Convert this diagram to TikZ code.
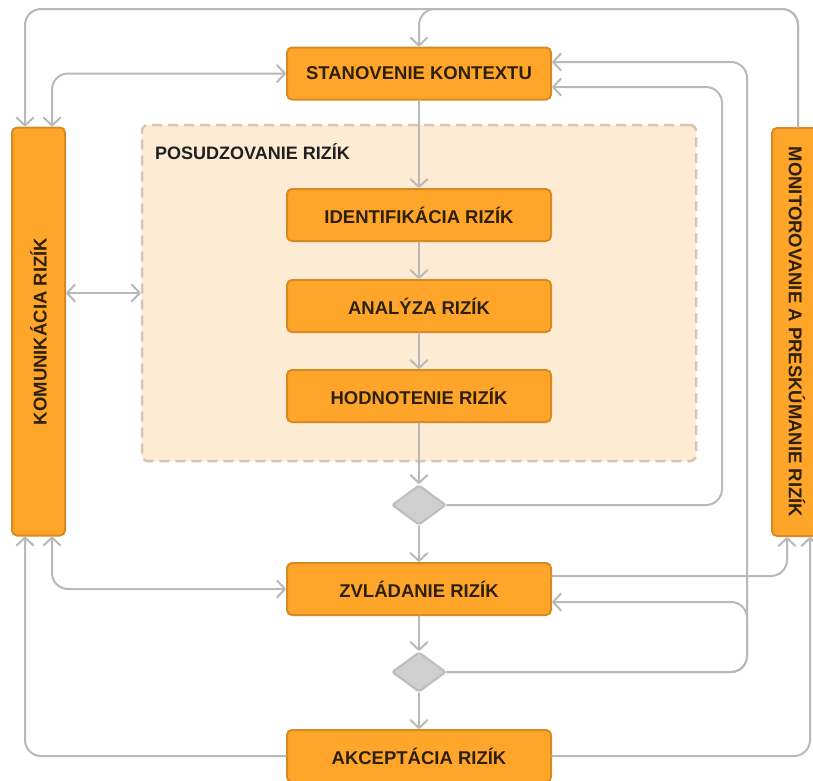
\documentclass[tikz,border=0pt]{standalone}
\usepackage{fontspec}
\setmainfont{Liberation Sans}
\usetikzlibrary{arrows.meta,shapes.geometric,calc}
\definecolor{ob}{HTML}{FFA62A}
\definecolor{obd}{HTML}{D88A22}
\definecolor{tx}{HTML}{2E2008}
\definecolor{ln}{HTML}{B9B9B9}
\definecolor{asf}{HTML}{FEEBD3}
\definecolor{asd}{HTML}{D5C5B1}
\definecolor{dmf}{HTML}{CFCFD0}
\definecolor{dmd}{HTML}{BDBDBD}
\begin{document}
\begin{tikzpicture}[x=1pt,y=-1pt,
  box/.style={draw=obd, fill=ob, line width=2pt, rounded corners=5pt, minimum width=264pt, minimum height=52pt, inner sep=0pt, text=tx, font=\bfseries\fontsize{18.5}{22}\selectfont},
  vbox/.style={draw=obd, fill=ob, line width=2pt, rounded corners=5pt, minimum height=408pt, inner sep=0pt},
  vtxt/.style={text=tx, font=\bfseries\fontsize{18.5}{22}\selectfont, inner sep=0pt},
  dia/.style={diamond, draw=dmd, fill=dmf, line width=2pt, minimum width=54pt, minimum height=40pt, inner sep=0pt, rounded corners=2pt},
  conn/.style={draw=ln, line width=2pt, rounded corners=16pt, line cap=round, line join=round},
  arr/.style={conn, -{Straight Barb[length=8pt,width=17pt,line cap=round,line join=round]}},
  arrtwo/.style={conn, {Straight Barb[length=8pt,width=17pt,line cap=round,line join=round]}-{Straight Barb[length=8pt,width=17pt,line cap=round,line join=round]}}
]
\useasboundingbox (0,0) rectangle (813,780);
\fill[white] (0,0) rectangle (813,780);

% assessment container
\node[draw=asd, fill=asf, line width=2.5pt, dash pattern=on 10pt off 6pt, rounded corners=6pt, minimum width=554pt, minimum height=336pt, inner sep=0pt] (assess) at (419,293) {};
\node[anchor=west, inner sep=0pt, text=black!88, font=\bfseries\fontsize{18}{21}\selectfont] (asslabel) at (155,151.5) {POSUDZOVANIE RIZÍK};

% main boxes
\node[box] (ctx) at (419,73.5) {STANOVENIE KONTEXTU};
\node[box] (ident) at (419,215) {IDENTIFIKÁCIA RIZÍK};
\node[box] (anal) at (419,306) {ANALÝZA RIZÍK};
\node[box] (hodn) at (419,396) {HODNOTENIE RIZÍK};
\node[dia] (d1) at (419,505) {};
\node[box] (zvl) at (419,589) {ZVLÁDANIE RIZÍK};
\node[dia] (d2) at (419,672) {};
\node[box] (akc) at (419,756) {AKCEPTÁCIA RIZÍK};

\node[vbox, minimum width=53pt] (kom) at (38.5,331.5) {};
\node[vtxt, rotate=90] (komt) at (kom.center) {KOMUNIKÁCIA RIZÍK};
\node[vbox, minimum width=50pt] (mon) at (797,332) {};
\node[vtxt, rotate=-90] (mont) at (mon.center) {MONITOROVANIE A PRESKÚMANIE RIZÍK};

% helper coordinates
\coordinate (c722) at (722,0);
\coordinate (c747) at (747,0);
\coordinate (ctop) at (0,9);
\coordinate (ctxhi) at ([yshift=11.5pt]ctx.east);
\coordinate (ctxlo) at ([yshift=-13.5pt]ctx.east);
\coordinate (zvlhi) at ([yshift=13pt]zvl.east);
\coordinate (zvllo) at ([yshift=-13pt]zvl.east);
\coordinate (komnl) at ([xshift=-13.5pt]kom.north);
\coordinate (komnr) at ([xshift=13.5pt]kom.north);
\coordinate (komsl) at ([xshift=-13.5pt]kom.south);
\coordinate (komsr) at ([xshift=13.5pt]kom.south);
\coordinate (monsl) at ([xshift=-10pt]mon.south);
\coordinate (monsr) at ([xshift=13pt]mon.south);
\coordinate (monn) at ([xshift=1pt]mon.north);

% vertical flow
\draw[arr] (ctx) -- (ident);
\draw[arr] (ident) -- (anal);
\draw[arr] (anal) -- (hodn);
\draw[arr] (hodn) -- (d1);
\draw[arr] (d1) -- (zvl);
\draw[arr] (zvl) -- (d2);
\draw[arr] (d2) -- (akc);

% top loops from monitoring
\draw[arr] (monn) |- (ctop -| ctx.north) -- (ctx.north);
\draw[arr] (monn) |- (ctop -| komnl) -- (komnl);

% communication links
\draw[arrtwo] (ctx.west) -| (komnr);
\draw[arrtwo] (kom.east |- assess.west) -- (assess.west);
\draw[arrtwo] (zvl.west) -| (komsr);
\draw[arr] (akc.west) -| (komsl);

% monitoring links
\draw[arr] (zvlhi) -| (monsl);
\draw[arr] (akc.east) -| (monsr);

% decision feedback loops
\draw[arr] (d1.east) -| (c722 |- ctxlo) -- (ctxlo);
\draw[arr] (d2.east) -| (c747 |- zvllo) -- (zvllo);
\draw[arr] (d2.east) -| (c747 |- ctxhi) -- (ctxhi);
\end{tikzpicture}
\end{document}
